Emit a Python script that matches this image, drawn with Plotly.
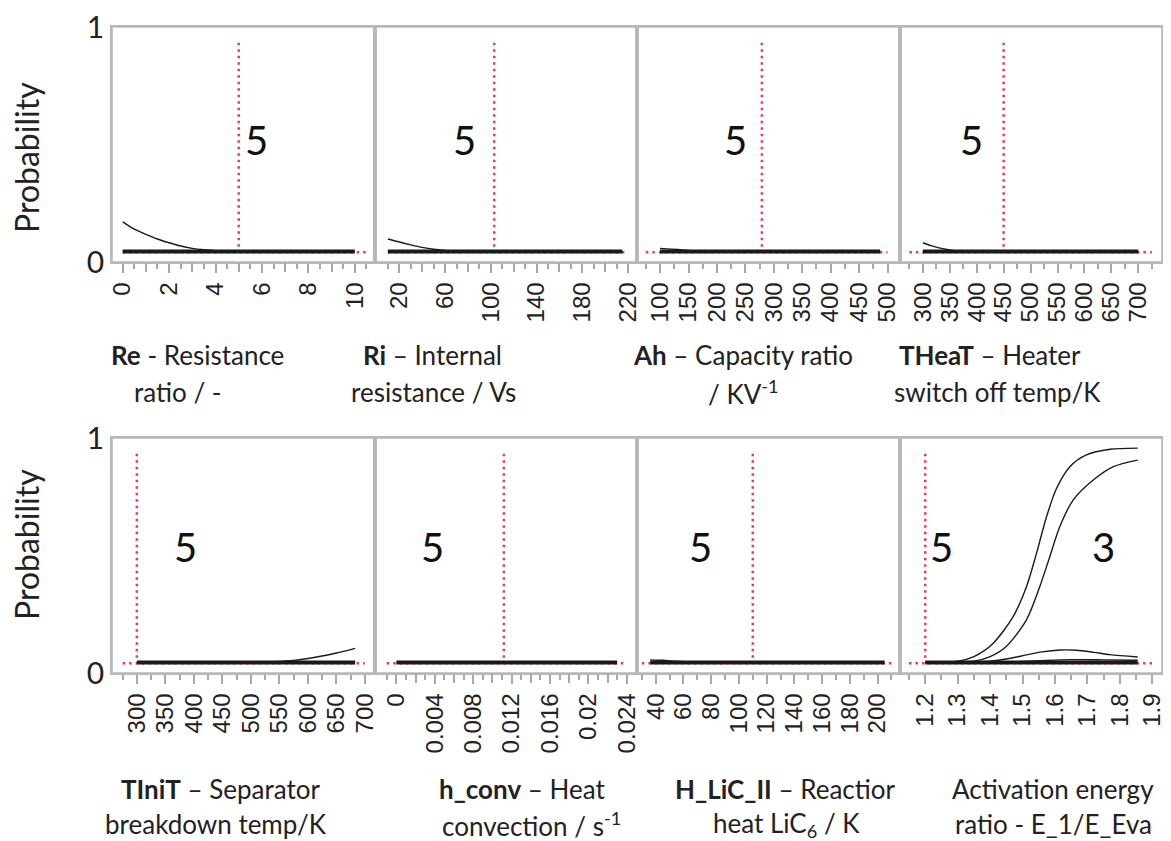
import numpy as np
import plotly.graph_objects as go
from plotly.subplots import make_subplots

# ---------------- data ----------------
BASE_LEVEL = [0.045, 0.045]          # thick overlapping baseline curves
REF_H_LEVEL = [0.042, 0.042]         # red dotted horizontal reference
REF_V_SPAN = [0.065, 0.935]          # red dotted vertical reference span

# Re - Resistance ratio
RE_BASE_X = [0, 10]
RE_X = [0, 0.5, 1, 1.5, 2, 2.5, 3, 3.5, 4, 5, 10]
RE_Y = [0.171, 0.14, 0.118, 0.098, 0.082, 0.068, 0.058, 0.052, 0.048, 0.046, 0.045]
RE_REF = 5.0
RE_TICKS = ["0", "2", "4", "6", "8", "10"]

# Ri - Internal resistance
RI_BASE_X = [10, 215]
RI_X = [10, 20, 30, 40, 50, 60, 70, 80, 215]
RI_Y = [0.098, 0.085, 0.073, 0.062, 0.054, 0.049, 0.046, 0.045, 0.045]
RI_REF = 103
RI_TICKS = ["20", "60", "100", "140", "180", "220"]

# Ah - Capacity ratio
AH_BASE_X = [100, 487]
AH_X = [100, 120, 140, 160, 180, 487]
AH_Y = [0.058, 0.055, 0.051, 0.048, 0.046, 0.045]
AH_REF = 279
AH_TICKS = ["100", "150", "200", "250", "300", "350", "400", "450", "500"]

# THeaT - Heater switch off temp
TH_BASE_X = [300, 700]
TH_X = [300, 315, 330, 345, 360, 380, 700]
TH_Y = [0.082, 0.07, 0.06, 0.053, 0.048, 0.046, 0.045]
TH_REF = 450
TH_TICKS = ["300", "350", "400", "450", "500", "550", "600", "650", "700"]

# TIniT - Separator breakdown temp
TI_BASE_X = [300, 683]
TI_X = [300, 520, 570, 618, 650, 683]
TI_Y = [0.046, 0.047, 0.052, 0.069, 0.085, 0.105]
TI_REF = 300
TI_TICKS = ["300", "350", "400", "450", "500", "550", "600", "650", "700"]

# h_conv - Heat convection
HC_BASE_X = [0, 0.023]
HC_REF = 0.0112
HC_TICKS = ["0", "0.004", "0.008", "0.012", "0.016", "0.02", "0.024"]

# H_LiC_II - Reaction heat LiC6
HL_BASE_X = [36, 205]
HL_X = [36, 45, 55, 65, 75, 205]
HL_Y = [0.056, 0.054, 0.05, 0.047, 0.045, 0.045]
HL_REF = 110
HL_TICKS = ["40", "60", "80", "100", "120", "140", "160", "180", "200"]

# Activation energy ratio
AE_BASE_X = [1.2, 1.855]
AE_A_X = [1.2, 1.3, 1.35, 1.409, 1.471, 1.512, 1.543, 1.574, 1.605, 1.646, 1.697, 1.77, 1.855]
AE_A_Y = [0.045, 0.05, 0.07, 0.126, 0.24, 0.367, 0.509, 0.665, 0.786, 0.878, 0.928, 0.952, 0.957]
AE_B_X = [1.2, 1.35, 1.4, 1.449, 1.512, 1.553, 1.584, 1.615, 1.656, 1.718, 1.78, 1.855]
AE_B_Y = [0.045, 0.05, 0.07, 0.112, 0.226, 0.367, 0.495, 0.623, 0.736, 0.821, 0.878, 0.906]
AE_C_X = [1.2, 1.4, 1.46, 1.512, 1.56, 1.615, 1.666, 1.72, 1.77, 1.855]
AE_C_Y = [0.045, 0.05, 0.062, 0.077, 0.09, 0.098, 0.097, 0.088, 0.078, 0.068]
AE_D_X = [1.2, 1.45, 1.55, 1.65, 1.75, 1.855]
AE_D_Y = [0.045, 0.046, 0.052, 0.057, 0.056, 0.054]
AE_REF = 1.2
AE_TICKS = ["1.2", "1.3", "1.4", "1.5", "1.6", "1.7", "1.8", "1.9"]

# ---------------- panel setup ----------------
panels = [
    dict(base=RE_BASE_X, curves=[(RE_X, RE_Y)], ref=RE_REF, ticks=RE_TICKS,
         rng=[-0.46, 10.85], tick_span=[0, 10.5], long=1, short=0.5,
         marks=[("5", 5.78, 0.52)],
         title=["<b>Re</b> - Resistance", "ratio / -"], tx=[197, 178]),
    dict(base=RI_BASE_X, curves=[(RI_X, RI_Y)], ref=RI_REF, ticks=RI_TICKS,
         rng=[-1.7, 227.8], tick_span=[10, 220], long=20, short=10,
         marks=[("5", 76.8, 0.52)],
         title=["<b>Ri</b> \u2013 Internal", "resistance / Vs"], tx=[432, 433]),
    dict(base=AH_BASE_X, curves=[(AH_X, AH_Y)], ref=AH_REF, ticks=AH_TICKS,
         rng=[59.4, 521], tick_span=[75, 500], long=50, short=25,
         marks=[("5", 232, 0.52)],
         title=["<b>Ah</b> \u2013 Capacity ratio", "/ KV<sup>-1</sup>"], tx=[743, 743]),
    dict(base=TH_BASE_X, curves=[(TH_X, TH_Y)], ref=TH_REF, ticks=TH_TICKS,
         rng=[256.6, 744], tick_span=[275, 725], long=50, short=25,
         marks=[("5", 391, 0.52)],
         title=["<b>THeaT</b> \u2013 Heater", "switch off temp/K"], tx=[990, 997]),
    dict(base=TI_BASE_X, curves=[(TI_X, TI_Y)], ref=TI_REF, ticks=TI_TICKS,
         rng=[256.4, 717], tick_span=[275, 700], long=50, short=25,
         marks=[("5", 386, 0.537)],
         title=["<b>TIniT</b> \u2013 Separator", "breakdown temp/K"], tx=[221, 216]),
    dict(base=HC_BASE_X, curves=[], ref=HC_REF, ticks=HC_TICKS,
         rng=[-0.00228, 0.02507], tick_span=[-0.001, 0.024], long=0.002, short=0.001,
         marks=[("5", 0.0038, 0.537)],
         title=["<b>h_conv</b> \u2013 Heat", "convection / s<sup>-1</sup>"], tx=[522, 531]),
    dict(base=HL_BASE_X, curves=[(HL_X, HL_Y)], ref=HL_REF, ticks=HL_TICKS,
         rng=[26.5, 215.8], tick_span=[30, 210], long=20, short=10,
         marks=[("5", 72.4, 0.537)],
         title=["<b>H_LiC_II</b> \u2013 Reactior", "heat LiC<sub>6</sub> / K"], tx=[785, 786]),
    dict(base=AE_BASE_X, curves=[(AE_A_X, AE_A_Y), (AE_B_X, AE_B_Y), (AE_C_X, AE_C_Y), (AE_D_X, AE_D_Y)],
         ref=AE_REF, ticks=AE_TICKS,
         rng=[1.1206, 1.93], tick_span=[1.15, 1.9], long=0.1, short=0.05,
         marks=[("5", 1.249, 0.537), ("3", 1.749, 0.537)],
         title=["Activation energy", "ratio - E_1/E_Eva"], tx=[1053, 1053]),
]

# the page body has an 8px margin: lay everything out in window pixels minus that offset
OFF = 8
W, H = 1171 - OFF, 841 - OFF
LEFT, PANEL_W = 112, 262.5
ROWS_PX = [(27, 262), (438, 673)]
TITLE_Y = [(355, 392), (789, 824)]
PROB_Y = [158, 545]


def px(xp):
    return (xp - OFF) / W


def py(yp):
    return 1 - (yp - OFF) / H


RED = "#e8395f"
GRAY = "#b8b8b8"
TICKGRAY = "#a8a8a8"
BLACK = "#1a1a1a"
FONT = "Lato"
DOT = "2.5px,4px"

fig = make_subplots(rows=2, cols=4, horizontal_spacing=0, vertical_spacing=0.1)
annotations = []
shapes = []
extra_axes = {}

for i, p in enumerate(panels):
    r, c = i // 4 + 1, i % 4 + 1
    top, bot = ROWS_PX[r - 1]
    x0 = LEFT + (c - 1) * PANEL_W
    xd = [px(x0), min(1.0, px(x0 + PANEL_W))]
    yd = [py(bot), py(top)]
    xref = "x" if i == 0 else f"x{i + 1}"
    yref = "y" if i == 0 else f"y{i + 1}"
    ov_id = 9 + i

    # ticks
    lo, hi = p["tick_span"]
    step_l, step_s = p["long"], p["short"]
    lab_map = {round(float(t), 6): t for t in p["ticks"]}
    lab_pos = [round(float(t), 6) for t in p["ticks"]]
    start_l = np.ceil(lo / step_l - 1e-9) * step_l
    n_long = int(round((hi - lo) / step_l)) + 2
    long_pos = [round(start_l + k * step_l, 6) for k in range(n_long) if start_l + k * step_l <= hi + 1e-9]
    unlab_long = [v for v in long_pos if all(abs(v - q) > step_s * 0.01 for q in lab_pos)]
    n_short = int(round((hi - lo) / step_s)) + 1
    short_pos = [round(lo + k * step_s, 6) for k in range(n_short)]
    short_pos = [v for v in short_pos if all(abs(v - q) > step_s * 0.01 for q in long_pos)]

    # red dotted references
    fig.add_trace(go.Scatter(x=p["tick_span"], y=REF_H_LEVEL, mode="lines",
                             line=dict(color=RED, width=2.5, dash=DOT),
                             hoverinfo="skip", showlegend=False), row=r, col=c)
    # vertical reference drawn on an overlay axis that carries the unlabeled long ticks
    fig.add_trace(go.Scatter(x=[p["ref"], p["ref"]], y=REF_V_SPAN, mode="lines",
                             line=dict(color=RED, width=2.5, dash=DOT),
                             xaxis=f"x{ov_id}", yaxis=yref,
                             hoverinfo="skip", showlegend=False))
    # thick baseline
    fig.add_trace(go.Scatter(x=p["base"], y=BASE_LEVEL, mode="lines",
                             line=dict(color=BLACK, width=4),
                             hoverinfo="skip", showlegend=False), row=r, col=c)
    for cx, cy in p["curves"]:
        fig.add_trace(go.Scatter(x=cx, y=cy, mode="lines",
                                 line=dict(color=BLACK, width=1.4, shape="spline", smoothing=0.8),
                                 hoverinfo="skip", showlegend=False), row=r, col=c)

    fig.update_xaxes(row=r, col=c, domain=xd, range=p["rng"], showgrid=False, zeroline=False,
                     showline=True, mirror=True, linecolor=GRAY, linewidth=1.6, automargin=False,
                     tickmode="array", tickvals=lab_pos, ticktext=[lab_map[v] for v in lab_pos],
                     ticks="outside", ticklen=9, tickwidth=1.5, tickcolor=TICKGRAY,
                     ticklabeloverflow="allow",
                     tickangle=-90, tickfont=dict(family="Liberation Sans", size=24, color="#222"),
                     minor=dict(tickmode="array", tickvals=short_pos, ticks="outside",
                                ticklen=5, tickwidth=1.5, tickcolor=TICKGRAY, showgrid=False))
    fig.update_yaxes(row=r, col=c, domain=yd, range=[0, 1], showgrid=False, zeroline=False,
                     showline=True, mirror=True, linecolor=GRAY, linewidth=1.6, automargin=False,
                     tickmode="array", tickvals=[0, 1], ticktext=["0", "1"],
                     showticklabels=(c == 1), ticks="", ticklabeloverflow="allow",
                     tickfont=dict(family=FONT, size=30, color="#222"))
    extra_axes[f"xaxis{ov_id}"] = dict(
        overlaying=xref, anchor=yref, side="bottom", domain=xd, range=p["rng"],
        showgrid=False, zeroline=False, showline=False, automargin=False,
        tickmode="array", tickvals=unlab_long if unlab_long else [p["rng"][0] - 1],
        showticklabels=False, ticks="outside", ticklen=9, tickwidth=1.5, tickcolor=TICKGRAY)

    # explicit panel frame (guarantees the top edge is drawn)
    shapes.append(dict(type="rect", xref="paper", yref="paper",
                       x0=xd[0], x1=xd[1], y0=yd[0], y1=yd[1],
                       line=dict(color=GRAY, width=1.6), fillcolor="rgba(0,0,0,0)", layer="above"))

    for txt, mx, my in p["marks"]:
        annotations.append(dict(text=txt, x=mx, y=my, xref=xref, yref=yref, showarrow=False,
                                xanchor="center", yanchor="middle",
                                font=dict(family=FONT, size=40, color="#111")))
    for line, lx, ly in zip(p["title"], p["tx"], TITLE_Y[r - 1]):
        annotations.append(dict(text=line, x=px(lx), y=py(ly), xref="paper", yref="paper",
                                showarrow=False, xanchor="center", yanchor="middle",
                                font=dict(family=FONT, size=26, color="#222")))

for yp in PROB_Y:
    annotations.append(dict(text="Probability", x=px(26), y=py(yp), xref="paper", yref="paper",
                            showarrow=False, textangle=-90, xanchor="center", yanchor="middle",
                            font=dict(family=FONT, size=32, color="#222")))

fig.update_layout(width=W, height=H, margin=dict(l=0, r=0, t=0, b=0),
                  paper_bgcolor="white", plot_bgcolor="white",
                  annotations=annotations, shapes=shapes, showlegend=False, **extra_axes)

fig.write_html("out.html")
